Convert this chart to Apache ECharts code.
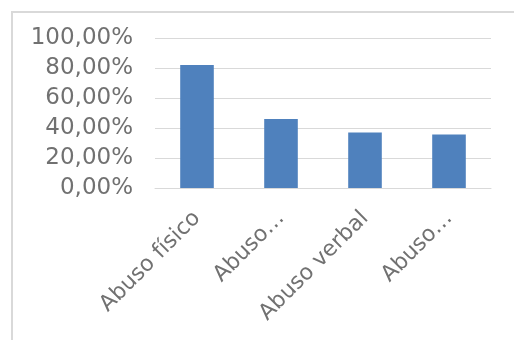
<!DOCTYPE html>
<html><head><meta charset="utf-8">
<script src="https://cdn.jsdelivr.net/npm/echarts@6/dist/echarts.min.js"></script>
<style>
html,body{margin:0;padding:0;background:#fff;}
#frame{position:absolute;left:11px;top:11px;width:520px;height:340px;border-left:2px solid #d9d9d9;border-top:2px solid #d9d9d9;}
#c{position:absolute;left:0;top:0;width:514px;height:340px;}
</style></head>
<body>
<div id="frame"></div>
<div id="c"></div>
<script>
var categories = ["Abuso físico", "Abuso…", "Abuso verbal", "Abuso…"];
var values = [82.2, 46.2, 37.1, 35.8];
var yTicks = [0, 20, 40, 60, 80, 100];
var FONT = '"DejaVu Sans", Verdana, sans-serif';

var chart = echarts.init(document.getElementById('c'));
chart.setOption({
  animation: false,
  grid: {left: 155, right: 23, top: 38.5, bottom: 152, containLabel: false},
  xAxis: {
    type: 'category', data: categories,
    axisLine: {lineStyle: {color: '#d9d9d9', width: 1}},
    axisTick: {show: false},
    axisLabel: {interval: 0, rotate: 45, color: '#717171', fontFamily: FONT, fontSize: 22, margin: 27}
  },
  yAxis: {
    type: 'value', min: yTicks[0], max: yTicks[yTicks.length-1], interval: 20,
    axisLine: {show: false}, axisTick: {show: false},
    splitLine: {lineStyle: {color: '#d9d9d9', width: 1}},
    axisLabel: {color: '#717171', fontFamily: FONT, fontSize: 23, margin: 22,
      formatter: function(v){ return v.toFixed(2).replace('.', ',') + '%'; }}
  },
  series: [{
    type: 'bar', data: values, barWidth: '40%',
    itemStyle: {color: '#4f81bd'}
  }]
});
</script>
</body></html>
